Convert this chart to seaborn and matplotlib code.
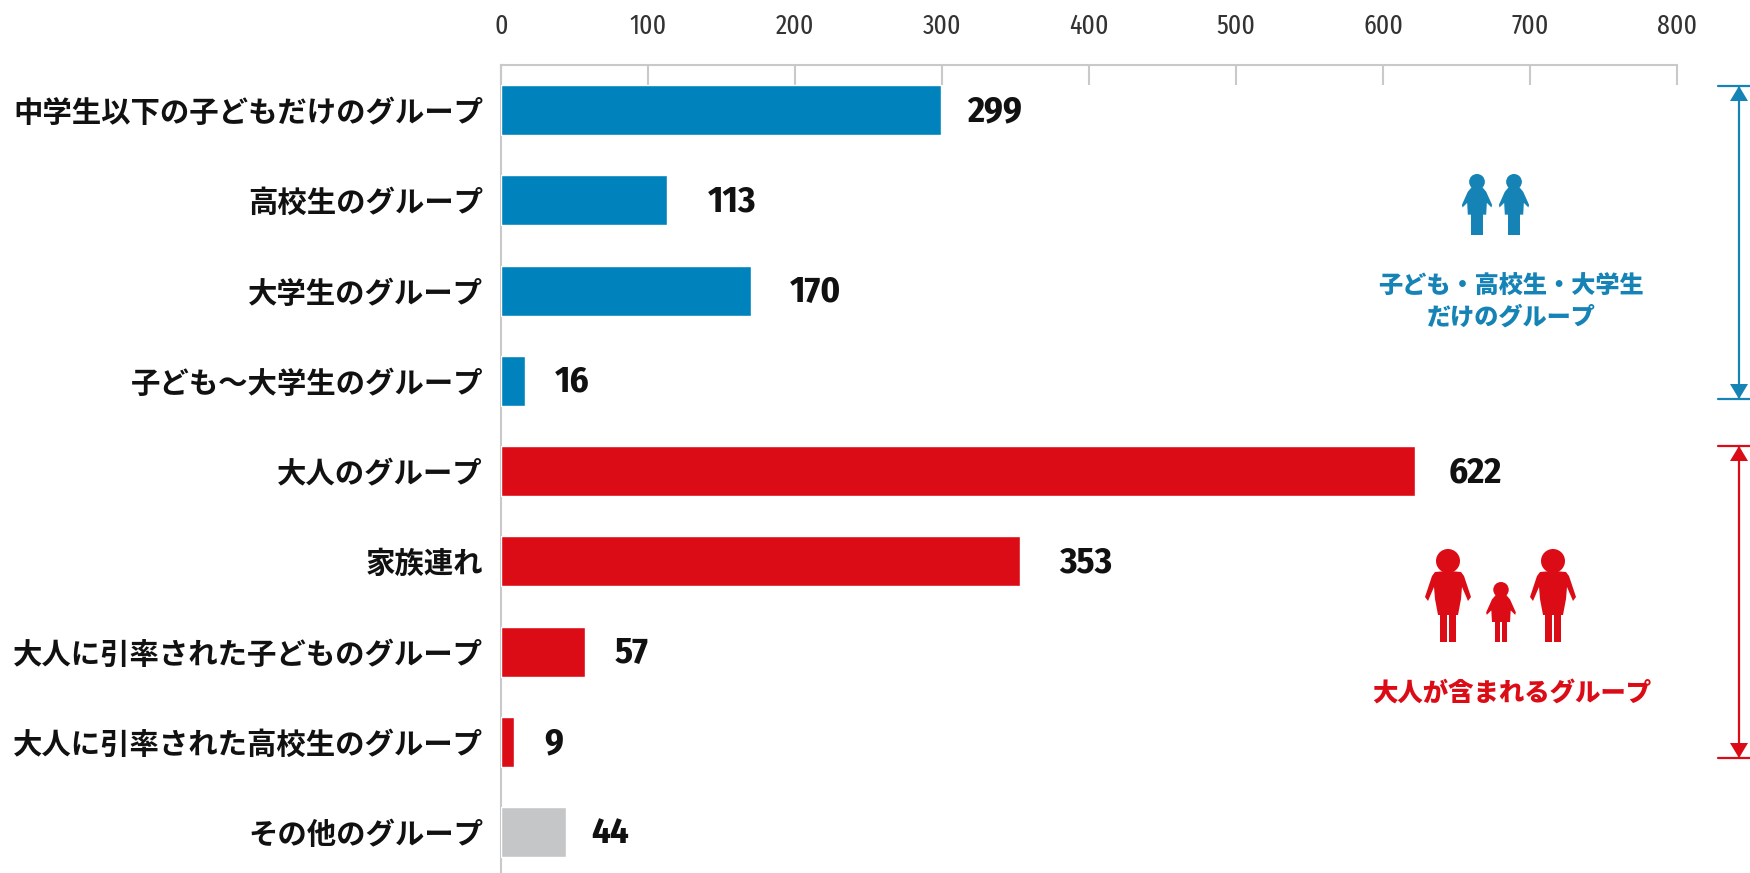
import matplotlib
matplotlib.use('Agg')
import matplotlib.pyplot as plt
from matplotlib.patches import Circle, Polygon, Rectangle
import pandas as pd
import seaborn as sns

groups = ['中学生以下の子どもだけのグループ', '高校生のグループ', '大学生のグループ',
          '子ども～大学生のグループ', '大人のグループ', '家族連れ',
          '大人に引率された子どものグループ', '大人に引率された高校生のグループ', 'その他のグループ']
counts = [299, 113, 170, 16, 622, 353, 57, 9, 44]
kinds = ['young', 'young', 'young', 'young', 'adult', 'adult', 'adult', 'adult', 'other']
ticks = [0, 100, 200, 300, 400, 500, 600, 700, 800]

# the value labels are not evenly spaced from the bars in the original (points)
label_gaps = [19.3, 29, 28, 21.7, 24, 28, 21.7, 21.7, 18.5]

BLUE = '#0083bd'
BLUE2 = '#1583b5'
RED = '#dc0c16'
GREY = '#c5c6c8'
LINE = '#c9c9c9'
palette = {'young': BLUE, 'adult': RED, 'other': GREY}

JP = ['Noto Sans CJK JP', 'DejaVu Sans']

sns.set_style('white')
plt.rcParams['font.family'] = JP

W, H = 1750, 873
fig = plt.figure(figsize=(W / 100, H / 100), dpi=100)
ax = fig.add_axes([501 / W, 0, 1176 / W, (H - 65) / H])

df = pd.DataFrame({'group': groups, 'count': counts, 'kind': kinds})
sns.barplot(data=df, y='group', x='count', hue='kind', palette=palette, dodge=False,
            width=0.554, legend=False, saturation=1, ax=ax, zorder=3)

ax.set_xlim(0, 800)
ax.set_ylim(8.454, -0.4986)
ax.set_xlabel('')
ax.set_ylabel('')
ax.set_xticks(ticks)
ax.xaxis.tick_top()
ax.tick_params(axis='x', direction='in', length=14.4, width=1.5, color=LINE, pad=18,
               labelsize=20, labelcolor='#333333')
ax.tick_params(axis='y', length=0, pad=13, labelsize=21.2, labelcolor='#111111')
for lab in ax.get_xticklabels():
    lab.set_family(['Fira Sans Extra Condensed', 'DejaVu Sans'])
for lab in ax.get_yticklabels():
    lab.set_fontweight('bold')

for side in ['right', 'bottom']:
    ax.spines[side].set_visible(False)
for side in ['top', 'left']:
    ax.spines[side].set_color(LINE)
    ax.spines[side].set_linewidth(1.5)

for i, (c, gap) in enumerate(zip(counts, label_gaps)):
    ax.annotate(str(c), (c, i), xytext=(gap, -1), textcoords='offset points',
                ha='left', va='center', family=['Fira Sans Condensed', 'DejaVu Sans'],
                fontweight='bold', fontsize=26.5, color='#111111')

# overlay in pixel coordinates for the pictograms and brackets
ov = fig.add_axes([0, 0, 1, 1], zorder=5)
ov.set_xlim(0, W)
ov.set_ylim(H, 0)
ov.axis('off')
ov.patch.set_alpha(0)

ADULT = [(2, 22), (13, 23), (16, 27), (23, 48), (20, 52), (14, 38), (13, 50), (10, 66), (2, 66)]
CHILD = [(2, 20), (8, 20), (14, 27), (23, 47), (22, 51), (15, 44), (14, 62), (2, 62)]


def person(cx, top, height, color, half, hip, leg_w, gap):
    s = height / 93
    r = 12 * s
    ov.add_patch(Circle((cx, top + r), r, color=color, lw=0))
    pts = [(-x, y) for x, y in half] + [(x, y) for x, y in reversed(half)]
    ov.add_patch(Polygon([(cx + x * s, top + y * s) for x, y in pts], color=color, lw=0))
    for x0 in (-gap - leg_w, gap):
        ov.add_patch(Rectangle((cx + x0 * s, top + hip * s), leg_w * s, (93 - hip) * s, color=color, lw=0))


def bracket(y0, y1, color):
    ov.plot([1739, 1739], [y0, y1], color=color, lw=1.6)
    for y, d in ((y0, 1), (y1, -1)):
        ov.plot([1718, 1750], [y, y], color=color, lw=1.6)
        ov.add_patch(Polygon([(1739, y), (1730, y + 15 * d), (1748, y + 15 * d)], color=color, lw=0))


person(1477, 174, 61, BLUE2, CHILD, 60, 9, 0.3)
person(1514, 174, 61, BLUE2, CHILD, 60, 9, 0.3)
person(1448, 549, 93, RED, ADULT, 64, 6.8, 0.8)
person(1501, 582, 60, RED, CHILD, 60, 8.5, 0.8)
person(1553, 549, 93, RED, ADULT, 64, 6.8, 0.8)

bracket(86, 399, BLUE2)
bracket(446, 758, RED)

ov.text(1511, 287, '子ども・高校生・大学生', color=BLUE2, fontsize=17.4, fontweight='black',
        ha='center', va='center')
ov.text(1511, 317, 'だけのグループ', color=BLUE2, fontsize=17.4, fontweight='black',
        ha='center', va='center')
ov.text(1512, 693, '大人が含まれるグループ', color=RED, fontsize=18.3, fontweight='black',
        ha='center', va='center')

fig.savefig('out.png', dpi=100, facecolor='white')
